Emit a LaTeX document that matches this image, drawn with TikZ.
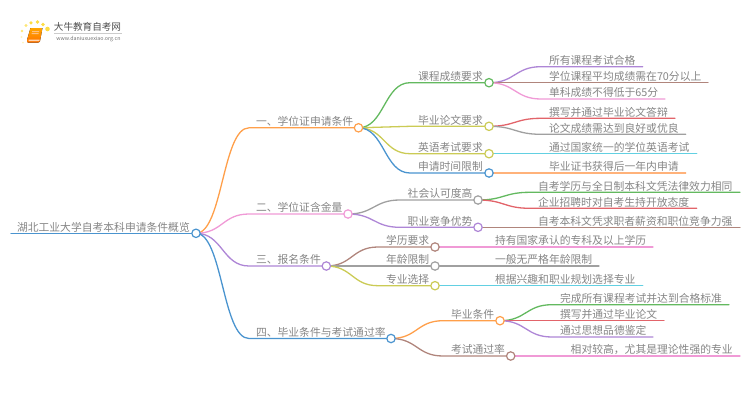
\documentclass[tikz,border=0pt]{standalone}
\usepackage{fontspec}
\setmainfont{Noto Sans CJK SC}
\usetikzlibrary{backgrounds,calc}
\definecolor{cOrange}{HTML}{FF9F4A}
\definecolor{cPink}{HTML}{F09AD6}
\definecolor{cPurple}{HTML}{AE86D6}
\definecolor{cBlue}{HTML}{4A94CF}
\definecolor{cGreen}{HTML}{63B95F}
\definecolor{cKhaki}{HTML}{CBCB55}
\definecolor{cBrown}{HTML}{B0857C}
\definecolor{cRed}{HTML}{E2646A}
\definecolor{cGray}{HTML}{A0A0A0}
\definecolor{cCyan}{HTML}{62D0E2}
\definecolor{cPeach}{HTML}{FFB27A}
\definecolor{cText}{HTML}{858585}
\tikzset{
  x=1pt,y=-1pt,
  dotnode/.style={circle,draw=#1,fill=white,line width=1.2pt,minimum size=8.4pt,inner sep=0pt,outer sep=0pt},
  label text/.style={anchor=base west,inner sep=0pt,outer sep=0pt,text=cText,font=\fontsize{10.8pt}{12pt}\selectfont},
  link/.style={draw=#1,line width=1.3pt,line cap=round}
}
% parent, name, x of curve end, y, x of line end, colour, x of text, text
\newcommand{\leafitem}[8]{%
  \coordinate (#2-s) at (#3,#4);
  \coordinate (#2-e) at (#5,#4);
  \node[label text] (#2-t) at (#7,#4-2.2) {#8};
  \begin{scope}[on background layer]
    \draw[link=#6] let \p1=(#1),\p2=(#2-s) in
      (#1.center) .. controls ({(\x1+\x2)/2},\y1) and ({(\x1+\x2)/2},\y2) .. (#2-s) -- (#2-e);
  \end{scope}
}
% same, and the branch ends in a small ring
\newcommand{\ringitem}[8]{%
  \node[dotnode=#6] (#2) at (#5,#4) {};
  \leafitem{#1}{#2}{#3}{#4}{#5}{#6}{#7}{#8}
}
\begin{document}
\begin{tikzpicture}
\useasboundingbox (0,0) rectangle (750,410);

% logo
\fill[yellow!70!orange,opacity=.25] (21.5,37) circle (1.2) (23,42.5) circle (1);
\fill[yellow!70!orange,opacity=.55] (22,31) circle (1.4) (26,25.5) circle (1.6);
\fill[yellow!70!orange,opacity=.75] (31,22.8) circle (1.8) (37.5,22) circle (1.9) (43,24.5) circle (1.9) (47.5,29) circle (2.3);
\fill[top color=orange!70!yellow,bottom color=orange!90!red] (30.5,28) -- (42.5,28) -- (40,41) to[out=-90,in=0] (38,42.5) -- (28,42.5) to[out=180,in=-90] (27,40) -- cycle;
\fill[white,opacity=.7] (28.5,39.7) -- (39.6,39.7) -- (39.2,41) -- (28.5,41) -- cycle;
\fill[orange!50!white] (32,31) rectangle (39,32) (31.5,33) rectangle (38.5,34);
\node[anchor=center,inner sep=0pt,text=black!70,font=\fontsize{9.6pt}{11pt}\selectfont] (logoname) at (87.5,27) {大牛教育自考网};
\draw[black!20,line width=.5pt] (54,33.2) -- (122,33.2);
\node[anchor=center,inner sep=0pt,text=black!55,font=\fontsize{5.3pt}{6pt}\selectfont] (logourl) at (88.5,38.7) {www.daniuxuexiao.org.cn};

% root
\node[dotnode=cBlue] (root) at (196,233.3) {};
\coordinate (root-s) at (11,233.3);
\node[label text] (root-t) at (17,231.1) {湖北工业大学自考本科申请条件概览};
\begin{scope}[on background layer]
  \draw[link=cBlue] (root-s) -- (root.center);
\end{scope}

% first level
\ringitem{root}{a}{249}{127.8}{358.5}{cOrange}{256}{一、学位证申请条件}
\ringitem{root}{b}{249}{214}{348}{cPink}{256}{二、学位证含金量}
\ringitem{root}{c}{249}{266}{326.3}{cPurple}{256}{三、报名条件}
\ringitem{root}{d}{249}{338.5}{391}{cBlue}{256}{四、毕业条件与考试通过率}

% branch one
\ringitem{a}{a1}{410}{82.7}{489}{cGreen}{418}{课程成绩要求}
\ringitem{a}{a2}{410}{126.3}{489}{cKhaki}{418}{毕业论文要求}
\ringitem{a}{a3}{410}{153.7}{489}{cKhaki}{418}{英语考试要求}
\ringitem{a}{a4}{410}{173}{489}{cBlue}{418}{申请时间限制}
\leafitem{a1}{a11}{541}{66.7}{642.7}{cPurple}{549}{所有课程考试合格}
\leafitem{a1}{a12}{541}{82.7}{708}{cBrown}{549}{学位课程平均成绩需在70分以上}
\leafitem{a1}{a13}{541}{99}{665}{cPink}{549}{单科成绩不得低于65分}
\leafitem{a2}{a21}{541}{118.3}{675}{cRed}{549}{撰写并通过毕业论文答辩}
\leafitem{a2}{a22}{541}{134.3}{685.7}{cGray}{549}{论文成绩需达到良好或优良}
\leafitem{a3}{a31}{541}{153.7}{696.7}{cCyan}{549}{通过国家统一的学位英语考试}
\leafitem{a4}{a41}{541}{173}{685.7}{cPeach}{549}{毕业证书获得后一年内申请}

% branch two
\ringitem{b}{b1}{400}{200}{478}{cGray}{407.7}{社会认可度高}
\ringitem{b}{b2}{400}{227.3}{478}{cPurple}{407.7}{职业竞争优势}
\leafitem{b1}{b11}{530}{192.3}{740}{cGreen}{538}{自考学历与全日制本科文凭法律效力相同}
\leafitem{b1}{b12}{530}{208.3}{696.7}{cRed}{538}{企业招聘时对自考生持开放态度}
\leafitem{b2}{b21}{530}{227.3}{740}{cBrown}{538}{自考本科文凭求职者薪资和职位竞争力强}

% branch three
\ringitem{c}{c1}{378}{247}{435}{cBrown}{386}{学历要求}
\ringitem{c}{c2}{378}{266}{435}{cGray}{386}{年龄限制}
\ringitem{c}{c3}{378}{285.7}{435}{cKhaki}{386}{专业选择}
\leafitem{c1}{c11}{487}{247}{653}{cPink}{495}{持有国家承认的专科及以上学历}
\leafitem{c2}{c21}{487}{266}{599}{cGray}{495}{一般无严格年龄限制}
\leafitem{c3}{c31}{487}{285.7}{642.7}{cCyan}{495}{根据兴趣和职业规划选择专业}

% branch four
\ringitem{d}{d1}{443}{320.7}{500}{cOrange}{451}{毕业条件}
\ringitem{d}{d2}{443}{356}{510.7}{cBrown}{451}{考试通过率}
\leafitem{d1}{d11}{552}{304.7}{729}{cGreen}{560}{完成所有课程考试并达到合格标准}
\leafitem{d1}{d12}{552}{320.7}{664}{cRed}{560}{撰写并通过毕业论文}
\leafitem{d1}{d13}{552}{337}{653}{cPurple}{560}{通过思想品德鉴定}
\leafitem{d2}{d21}{563}{356}{740}{cPink}{570.7}{相对较高，尤其是理论性强的专业}
\end{tikzpicture}
\end{document}
